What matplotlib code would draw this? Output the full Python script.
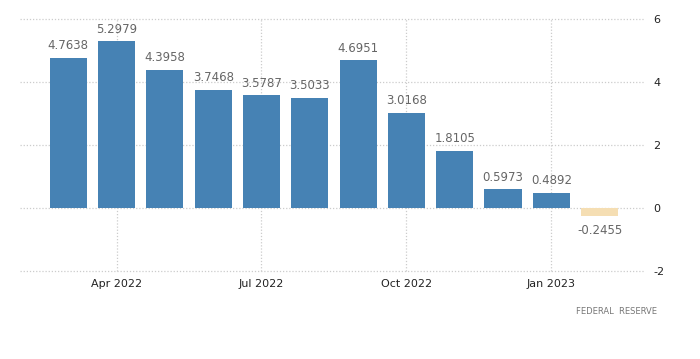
import numpy as np
import matplotlib.pyplot as plt

months = ['Mar 2022', 'Apr 2022', 'May 2022', 'Jun 2022', 'Jul 2022', 'Aug 2022',
          'Sep 2022', 'Oct 2022', 'Nov 2022', 'Dec 2022', 'Jan 2023', 'Feb 2023']
values = [4.7638, 5.2979, 4.3958, 3.7468, 3.5787, 3.5033,
          4.6951, 3.0168, 1.8105, 0.5973, 0.4892, -0.2455]
tick_months = ['Apr 2022', 'Jul 2022', 'Oct 2022', 'Jan 2023']
yticks = [-2, 0, 2, 4, 6]

plt.rcParams['font.family'] = ['DejaVu Sans']
plt.rcParams['axes.unicode_minus'] = False
fig = plt.figure(figsize=(7, 3.59), dpi=100)
ax = fig.add_axes([20 / 700, 1 - 271 / 359, 625 / 700, 252 / 359])

x = np.arange(len(months))
colors = ['#4682b4' if v >= 0 else '#f5deb3' for v in values]
ax.bar(x, values, width=0.77, color=colors, zorder=2)

for xi, v in zip(x, values):
    if v >= 0:
        ax.annotate(f'{v:.4f}', (xi, v), xytext=(0, 4), textcoords='offset points',
                    ha='center', va='bottom', fontsize=8.5, color='#666666')
    else:
        ax.annotate(f'{v:.4f}', (xi, v), xytext=(0, -6), textcoords='offset points',
                    ha='center', va='top', fontsize=8.5, color='#666666')

ax.set_xlim(-1.0, 11.94)
ax.set_ylim(-2, 6)
ax.set_xticks([months.index(m) for m in tick_months])
ax.set_xticklabels(tick_months)
ax.set_yticks(yticks)
ax.yaxis.tick_right()
ax.tick_params(axis='both', length=0, labelsize=8, colors='#222222')
ax.tick_params(axis='x', pad=6)
ax.tick_params(axis='y', pad=6)
ax.grid(True, color='#cccccc', linestyle=(0, (1, 1.5)), linewidth=0.9, zorder=0)
for line in ax.get_xgridlines() + ax.get_ygridlines():
    line.set_clip_on(False)
for s in ax.spines.values():
    s.set_visible(False)

fig.text(657 / 700, 1 - 312 / 359, 'FEDERAL  RESERVE', ha='right', va='center',
         fontsize=6, color='#777777')

fig.savefig('out.png', dpi=100)
